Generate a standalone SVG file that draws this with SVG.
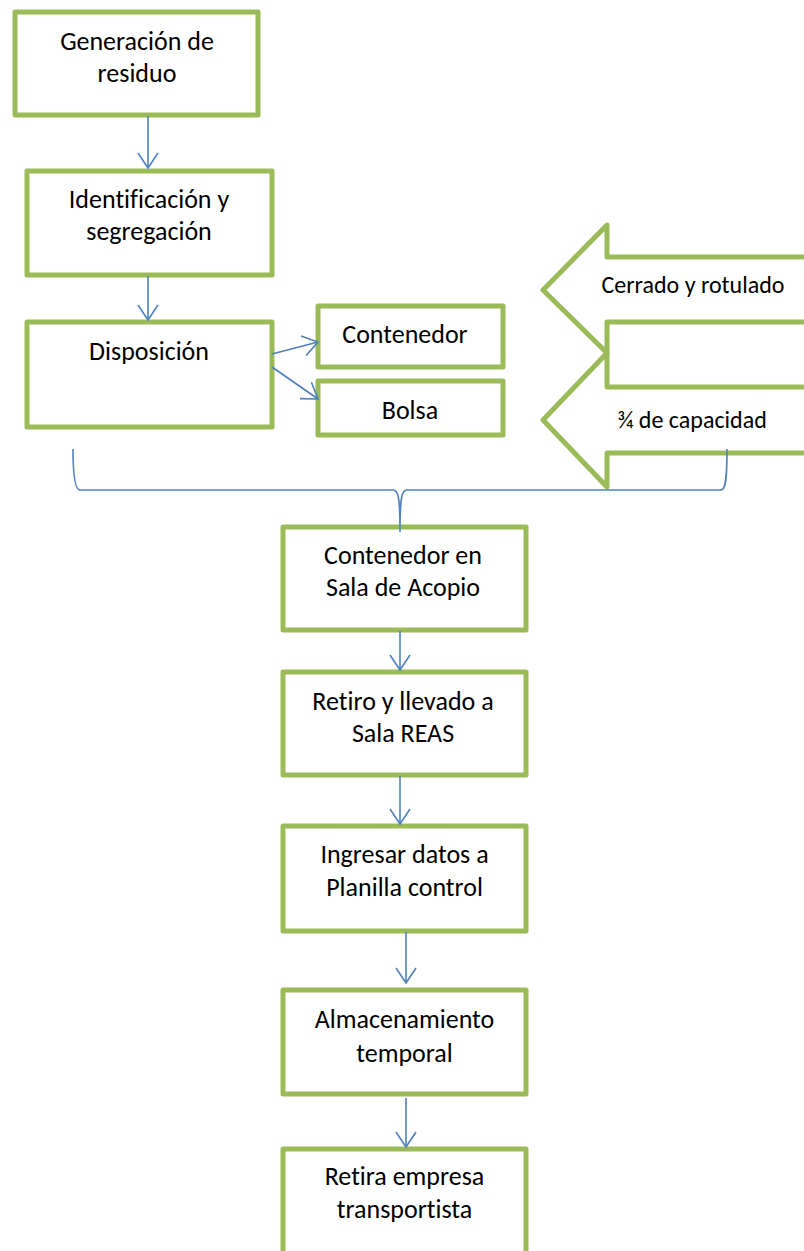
<svg xmlns="http://www.w3.org/2000/svg" width="804" height="1251" viewBox="0 0 804 1251">
<style>
.box{fill:#fff;stroke:#9BBB59;stroke-width:5;stroke-linejoin:round}
.t{font-family:Carlito,Lato,"Liberation Sans",sans-serif;font-size:26px;fill:#000;text-anchor:middle;font-variant-ligatures:none}
.s{font-family:Carlito,Lato,"Liberation Sans",sans-serif;font-size:24px;fill:#000;text-anchor:middle;font-variant-ligatures:none}
.c{fill:none;stroke:#4F81BD;stroke-width:1.6}
</style>
<defs>
<marker id="ah" viewBox="0 0 15 20" refX="15" refY="10" markerWidth="15" markerHeight="20" markerUnits="userSpaceOnUse" orient="auto" overflow="visible">
<path d="M0,0 L15,10 L0,20" fill="none" stroke="#4F81BD" stroke-width="1.6"/>
</marker>
</defs>
<rect width="804" height="1251" fill="#fff"/>
<g id="n1"><rect class="box" x="15" y="12" width="243" height="103"/><text class="t" x="137" y="50">Generación de</text><text class="t" x="137" y="82">residuo</text></g>
<g id="n2"><rect class="box" x="27" y="171" width="245" height="104"/><text class="t" x="149" y="208">Identificación y</text><text class="t" x="149" y="240">segregación</text></g>
<g id="n3"><rect class="box" x="27" y="322" width="245" height="105"/><text class="t" x="149" y="360">Disposición</text></g>
<g id="n4"><rect class="box" x="318" y="306" width="185" height="61"/><text class="t" x="405" y="343">Contenedor</text></g>
<g id="n5"><rect class="box" x="318" y="381" width="185" height="54"/><text class="t" x="410" y="419">Bolsa</text></g>
<g id="a1"><path class="box" d="M810,257 L607,257 L607,225 L543,290 L607,353 L607,322 L810,322"/><text class="s" x="693" y="293">Cerrado y rotulado</text></g>
<g id="a2"><path class="box" d="M810,387 L607,387 L607,353 L543,420 L607,487 L607,453 L810,453"/><text class="s" x="692" y="428">¾ de capacidad</text></g>
<g id="n6"><rect class="box" x="283" y="527" width="243" height="103"/><text class="t" x="403" y="564">Contenedor en</text><text class="t" x="403" y="596">Sala de Acopio</text></g>
<g id="n7"><rect class="box" x="283" y="672" width="243" height="103"/><text class="t" x="403" y="710">Retiro y llevado a</text><text class="t" x="403" y="742">Sala REAS</text></g>
<g id="n8"><rect class="box" x="283" y="826" width="243" height="105"/><text class="t" x="404.5" y="863">Ingresar datos a</text><text class="t" x="404.5" y="896">Planilla control</text></g>
<g id="n9"><rect class="box" x="283" y="990" width="243" height="104"/><text class="t" x="404.5" y="1028">Almacenamiento</text><text class="t" x="404.5" y="1062">temporal</text></g>
<g id="n10"><rect class="box" x="283" y="1149" width="243" height="140"/><text class="t" x="404.5" y="1185">Retira empresa</text><text class="t" x="404.5" y="1218">transportista</text></g>
<g id="connectors">
<line class="c" x1="148" y1="116" x2="148" y2="168" marker-end="url(#ah)"/>
<line class="c" x1="148" y1="276" x2="148" y2="320" marker-end="url(#ah)"/>
<line class="c" x1="272" y1="354" x2="318" y2="342" marker-end="url(#ah)"/>
<line class="c" x1="272" y1="367" x2="318" y2="399" marker-end="url(#ah)"/>
<path class="c" stroke-width="2" d="M73,449 C73,476 75,490 80,490 L393,490 C398,490 400,496 400,532 C400,496 402,490 407,490 L721,490 C726,490 727,476 727,449"/>
<line class="c" x1="400" y1="631" x2="400" y2="670" marker-end="url(#ah)"/>
<line class="c" x1="400" y1="776" x2="400" y2="824" marker-end="url(#ah)"/>
<line class="c" x1="406" y1="932" x2="406" y2="983" marker-end="url(#ah)"/>
<line class="c" x1="406" y1="1098" x2="406" y2="1147" marker-end="url(#ah)"/>
</g>
</svg>
